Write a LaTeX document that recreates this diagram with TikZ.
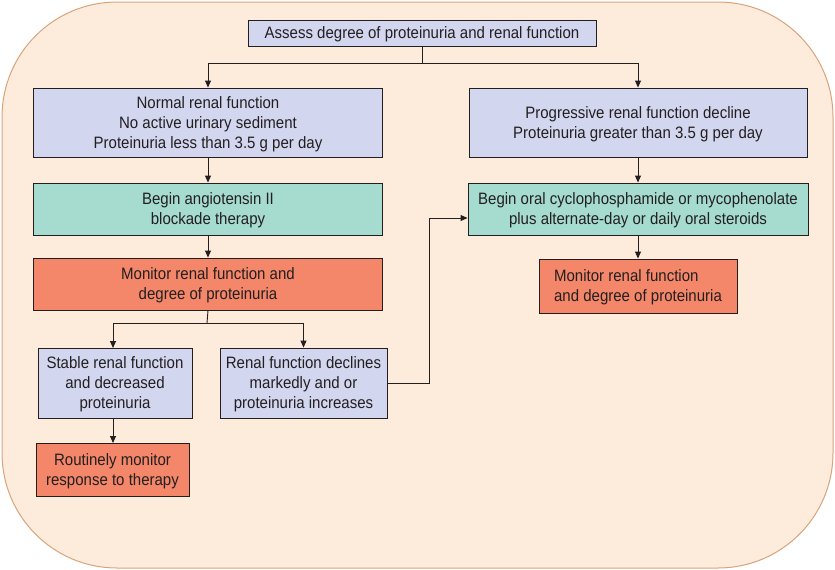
\documentclass[tikz,border=0pt]{standalone}
\usepackage{fontspec}
\setmainfont{Liberation Sans}[FakeStretch=0.91]
\usetikzlibrary{arrows.meta}
\definecolor{bgfill}{HTML}{FDEBDC}
\definecolor{bgline}{HTML}{D8A47C}
\definecolor{lav}{HTML}{D3D6EF}
\definecolor{teal}{HTML}{A5DCCF}
\definecolor{salm}{HTML}{F4876A}
\definecolor{ink}{HTML}{231F20}
\tikzset{
  box/.style={draw=ink, line width=0.9pt, inner sep=0pt, align=center, text=ink,
    font=\fontsize{16.5}{20}\selectfont, text depth=-2pt},
  lavbox/.style={box, fill=lav},
  tealbox/.style={box, fill=teal},
  salbox/.style={box, fill=salm},
  conn/.style={draw=ink, line width=0.9pt, -{Triangle[length=7pt,width=6pt]}},
}
\begin{document}
\begin{tikzpicture}[x=1pt,y=-1pt]
\useasboundingbox (0,0) rectangle (835,570);
\draw[fill=bgfill, draw=bgline, line width=1pt, rounded corners=115pt] (2,2) rectangle (833,568);

\node[lavbox, minimum width=348pt, minimum height=26pt] (assess) at (422,33) {Assess degree of proteinuria and renal function};
\node[lavbox, minimum width=349pt, minimum height=69pt] (normal) at (208,122.5) {Normal renal function\\No active urinary sediment\\Proteinuria less than 3.5 g per day};
\node[lavbox, minimum width=338pt, minimum height=69pt] (prog) at (638,122.5) {Progressive renal function decline\\Proteinuria greater than 3.5 g per day};
\node[tealbox, minimum width=340pt, minimum height=52pt] (oral) at (638,209) {Begin oral cyclophosphamide or mycophenolate\\plus alternate-day or daily oral steroids};
\node[tealbox, minimum width=349pt, minimum height=52pt] (ang) at (208,209) {Begin angiotensin II\\blockade therapy};
\node[salbox, minimum width=349pt, minimum height=52pt] (mon) at (208,284) {Monitor renal function and\\degree of proteinuria};
\node[salbox, minimum width=198pt, minimum height=54pt, align=left] (monr) at (638,286) {Monitor renal function\\and degree of proteinuria};
\node[lavbox, minimum width=154pt, minimum height=70pt] (stable) at (115,383) {Stable renal function\\and decreased\\proteinuria};
\node[lavbox, minimum width=167pt, minimum height=70pt] (decl) at (303.5,383) {Renal function declines\\markedly and or\\proteinuria increases};
\node[salbox, minimum width=153pt, minimum height=53pt] (rout) at (112.5,469.5) {Routinely monitor\\response to therapy};

\coordinate (j1) at (422,63);
\coordinate (j2) at (207,323);
\coordinate (j3) at (429,218);

\draw[draw=ink, line width=0.9pt] (assess.south) -- (j1);
\draw[conn] (j1) -| (normal.north);
\draw[conn] (j1) -| (prog.north);
\draw[conn] (normal) -- (ang);
\draw[conn] (prog) -- (oral);
\draw[conn] (ang) -- (mon);
\draw[conn] (oral.south) -- (monr.north);
\draw[draw=ink, line width=0.9pt] (mon.south) -- (j2);
\draw[conn] (j2) -| (113,348);
\draw[conn] (j2) -| (decl.north);
\draw[conn] (113,418) -- (113,443);
\draw[conn] (decl.east) -| (j3) -- (oral.west |- j3);
\end{tikzpicture}
\end{document}
